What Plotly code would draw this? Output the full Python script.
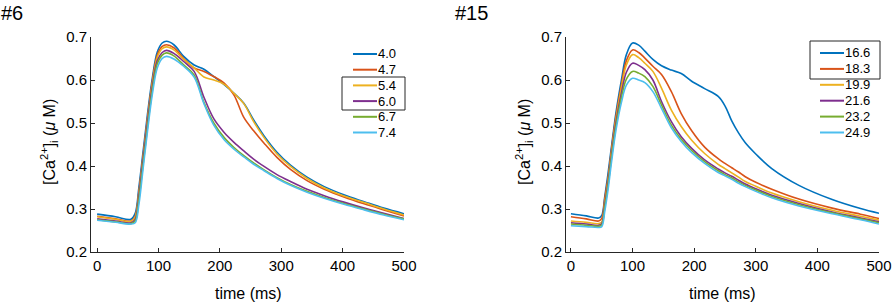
import plotly.graph_objects as go

# ---------------- data ----------------
colors = ["#0072BD", "#D95319", "#EDB120", "#7E2F8E", "#77AC30", "#4DBEEE"]

# Panel #6
t_left = [0, 30, 55, 62, 68, 75, 82, 90, 98, 106, 113, 125, 141, 158, 174, 190,
          207, 223, 239, 255, 272, 293, 315, 342, 370, 402, 435, 467, 500]
labels_left = ["4.0", "4.7", "5.4", "6.0", "6.7", "7.4"]
ca_left_40 = [0.288, 0.282, 0.276, 0.290, 0.350, 0.435, 0.520, 0.605, 0.665, 0.686, 0.690, 0.682, 0.655, 0.635, 0.625, 0.608,
              0.589, 0.569, 0.546, 0.507, 0.470, 0.432, 0.402, 0.374, 0.352, 0.333, 0.317, 0.302, 0.289]
ca_left_47 = [0.283, 0.277, 0.272, 0.283, 0.340, 0.425, 0.510, 0.597, 0.658, 0.678, 0.682, 0.675, 0.650, 0.628, 0.620, 0.608,
              0.593, 0.565, 0.513, 0.482, 0.453, 0.420, 0.392, 0.366, 0.346, 0.328, 0.312, 0.298, 0.284]
ca_left_54 = [0.282, 0.276, 0.271, 0.281, 0.335, 0.420, 0.505, 0.592, 0.653, 0.673, 0.677, 0.670, 0.648, 0.628, 0.607, 0.600,
              0.590, 0.569, 0.545, 0.503, 0.466, 0.428, 0.399, 0.371, 0.349, 0.330, 0.315, 0.300, 0.286]
ca_left_60 = [0.277, 0.272, 0.268, 0.276, 0.330, 0.415, 0.500, 0.585, 0.645, 0.664, 0.669, 0.662, 0.643, 0.620, 0.560, 0.510,
              0.478, 0.455, 0.435, 0.416, 0.399, 0.380, 0.364, 0.346, 0.331, 0.316, 0.302, 0.290, 0.278]
ca_left_67 = [0.275, 0.270, 0.266, 0.272, 0.322, 0.405, 0.490, 0.577, 0.638, 0.658, 0.663, 0.656, 0.635, 0.612, 0.548, 0.500,
              0.466, 0.443, 0.424, 0.407, 0.391, 0.373, 0.357, 0.341, 0.327, 0.313, 0.300, 0.288, 0.277]
ca_left_74 = [0.274, 0.269, 0.265, 0.268, 0.310, 0.395, 0.480, 0.567, 0.628, 0.650, 0.655, 0.649, 0.632, 0.607, 0.545, 0.495,
              0.461, 0.439, 0.421, 0.404, 0.389, 0.371, 0.355, 0.339, 0.325, 0.311, 0.298, 0.286, 0.275]

# Panel #15
t_right = [0, 25, 45, 50, 55, 60, 66, 73, 82, 90, 100, 110, 120, 133, 147, 163, 179, 196,
           217, 239, 250, 261, 272, 283, 300, 326, 370, 424, 470, 500]
labels_right = ["16.6", "18.3", "19.9", "21.6", "23.2", "24.9"]
ca_right_166 = [0.289, 0.284, 0.279, 0.285, 0.330, 0.380, 0.447, 0.523, 0.600, 0.659, 0.686, 0.681, 0.667, 0.648, 0.633, 0.623, 0.615, 0.597,
                0.580, 0.562, 0.540, 0.505, 0.477, 0.454, 0.428, 0.394, 0.355, 0.322, 0.301, 0.290]
ca_right_183 = [0.282, 0.277, 0.272, 0.278, 0.325, 0.370, 0.440, 0.515, 0.590, 0.645, 0.670, 0.664, 0.651, 0.632, 0.613, 0.573, 0.522, 0.482,
                0.444, 0.417, 0.406, 0.396, 0.386, 0.375, 0.362, 0.346, 0.323, 0.302, 0.288, 0.278]
ca_right_199 = [0.272, 0.269, 0.266, 0.270, 0.315, 0.362, 0.432, 0.508, 0.582, 0.635, 0.659, 0.652, 0.639, 0.620, 0.581, 0.530, 0.492, 0.460,
                0.429, 0.404, 0.394, 0.384, 0.374, 0.364, 0.353, 0.337, 0.317, 0.297, 0.283, 0.274]
ca_right_216 = [0.268, 0.265, 0.262, 0.266, 0.310, 0.357, 0.425, 0.500, 0.570, 0.618, 0.639, 0.634, 0.624, 0.600, 0.550, 0.503, 0.468, 0.441,
                0.414, 0.393, 0.384, 0.376, 0.367, 0.358, 0.347, 0.332, 0.313, 0.293, 0.279, 0.270]
ca_right_232 = [0.265, 0.262, 0.260, 0.263, 0.305, 0.352, 0.420, 0.492, 0.560, 0.602, 0.620, 0.616, 0.608, 0.585, 0.542, 0.495, 0.462, 0.436,
                0.410, 0.389, 0.380, 0.372, 0.363, 0.355, 0.344, 0.329, 0.310, 0.291, 0.277, 0.268]
ca_right_249 = [0.261, 0.259, 0.257, 0.259, 0.295, 0.342, 0.410, 0.482, 0.548, 0.588, 0.604, 0.600, 0.594, 0.573, 0.534, 0.489, 0.457, 0.431,
                0.406, 0.385, 0.377, 0.369, 0.360, 0.352, 0.341, 0.326, 0.307, 0.289, 0.275, 0.265]

x_ticks = [0, 100, 200, 300, 400, 500]
y_ticks = [0.2, 0.3, 0.4, 0.5, 0.6, 0.7]

series_left = [ca_left_40, ca_left_47, ca_left_54, ca_left_60, ca_left_67, ca_left_74]
series_right = [ca_right_166, ca_right_183, ca_right_199, ca_right_216, ca_right_232, ca_right_249]

# ---------------- figure ----------------
W, H = 893, 304
def px(x):
    return x / W
def py(y):
    return 1 - y / H

FONT = "Liberation Sans, Arial, Helvetica, sans-serif"
AX = "#262626"

fig = go.Figure()
for vals, lab, c in zip(series_left, labels_left, colors):
    fig.add_trace(go.Scatter(x=t_left, y=vals, name=lab, mode="lines", showlegend=False,
                             line=dict(color=c, width=1.6, shape="spline", smoothing=1.0),
                             xaxis="x", yaxis="y"))
for vals, lab, c in zip(series_right, labels_right, colors):
    fig.add_trace(go.Scatter(x=t_right, y=vals, name=lab, mode="lines", showlegend=False,
                             line=dict(color=c, width=1.6, shape="spline", smoothing=1.0),
                             xaxis="x2", yaxis="y2"))

axis_common = dict(showgrid=False, zeroline=False, showline=True, linecolor=AX, linewidth=1,
                   ticks="inside", ticklen=4, tickcolor=AX, tickwidth=1, automargin=False,
                   tickfont=dict(family=FONT, size=15, color="#000000"))

fig.update_layout(
    width=W, height=H, autosize=False,
    margin=dict(l=0, r=0, t=0, b=0, pad=0, autoexpand=False),
    paper_bgcolor="white", plot_bgcolor="white",
    xaxis=dict(domain=[px(91), px(404)], range=[-10, 500], tickvals=x_ticks, anchor="y", **axis_common),
    yaxis=dict(domain=[py(252), py(37)], range=[0.2, 0.7], tickvals=y_ticks, tickformat=".1f", anchor="x", **axis_common),
    xaxis2=dict(domain=[px(566), px(879)], range=[-8, 500], tickvals=x_ticks, anchor="y2", **axis_common),
    yaxis2=dict(domain=[py(252), py(37)], range=[0.2, 0.7], tickvals=y_ticks, tickformat=".1f", anchor="x2", **axis_common),
    showlegend=False,
)

# legends (drawn as line samples + labels, like the original layout)
def add_legend(labels, line_x0, line_x1, text_x, row_y0, row_step):
    for i, (lab, c) in enumerate(zip(labels, colors)):
        yy = row_y0 + i * row_step
        fig.add_shape(type="line", xref="paper", yref="paper",
                      x0=px(line_x0), x1=px(line_x1), y0=py(yy), y1=py(yy),
                      line=dict(color=c, width=2))
        fig.add_annotation(xref="paper", yref="paper", showarrow=False, text=lab,
                           x=px(text_x), y=py(yy), xanchor="left", yanchor="middle",
                           borderpad=0, font=dict(family=FONT, size=13, color="#000000"))

add_legend(labels_left, 353, 377, 377, 54, 15.7)
add_legend(labels_right, 820, 844, 844, 53, 15.9)

# partial legend boxes as in the original
fig.add_shape(type="rect", xref="paper", yref="paper", x0=px(342), x1=px(405), y0=py(110), y1=py(77),
              line=dict(color=AX, width=1), fillcolor="rgba(0,0,0,0)")
fig.add_shape(type="rect", xref="paper", yref="paper", x0=px(810), x1=px(880), y0=py(79), y1=py(41),
              line=dict(color=AX, width=1), fillcolor="rgba(0,0,0,0)")

ylab = "[Ca<sup>2+</sup>]<sub>i</sub> (<i>μ</i> M)"
ann = [
    dict(text="#6", x=px(0), y=py(13), xanchor="left", yanchor="middle", font=dict(size=20)),
    dict(text="#15", x=px(454), y=py(13), xanchor="left", yanchor="middle", font=dict(size=20)),
    dict(text="time (ms)", x=px(248), y=py(293), xanchor="center", yanchor="middle", font=dict(size=16)),
    dict(text="time (ms)", x=px(722), y=py(293), xanchor="center", yanchor="middle", font=dict(size=16)),
    dict(text=ylab, x=px(49), y=py(142), xanchor="center", yanchor="middle", textangle=-90, font=dict(size=16)),
    dict(text=ylab, x=px(524), y=py(142), xanchor="center", yanchor="middle", textangle=-90, font=dict(size=16)),
]
for a in ann:
    a["font"].update(family=FONT, color="#000000")
    fig.add_annotation(xref="paper", yref="paper", showarrow=False, borderpad=0, **a)

fig.write_html("out.html",
               config={"displayModeBar": False},
               post_script="document.body.style.margin='0';document.body.style.padding='0';"
                           "document.documentElement.style.overflow='hidden';")
